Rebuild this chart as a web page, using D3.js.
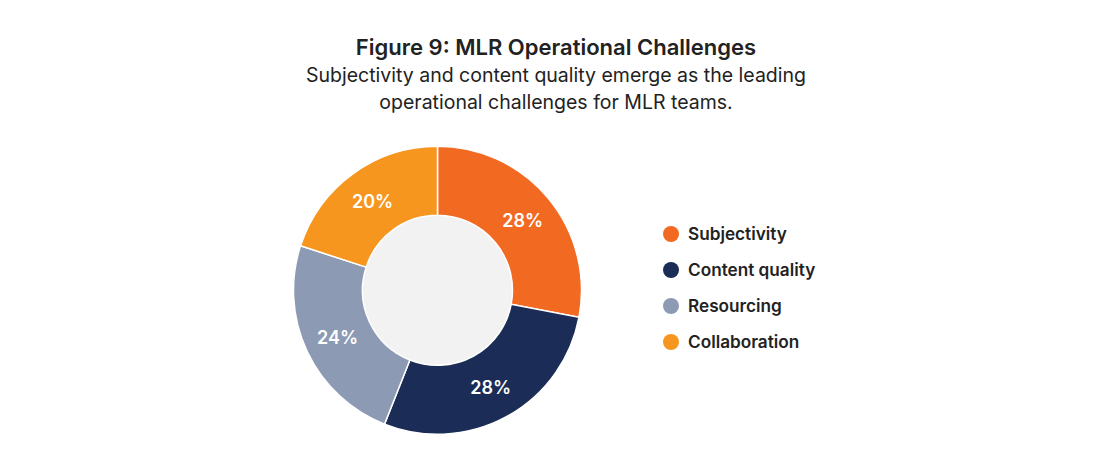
<!DOCTYPE html>
<html>
<head>
<meta charset="utf-8">
<script src="https://cdn.jsdelivr.net/npm/d3@7"></script>
<style>
  html, body { margin: 0; padding: 0; background: #ffffff; }
  svg { display: block; font-family: "Inter", "Open Sans", sans-serif; }
</style>
</head>
<body>
<svg id="chart" width="1116" height="459"></svg>
<script>
const title = "Figure 9: MLR Operational Challenges";
const subtitleLines = [
  "Subjectivity and content quality emerge as the leading",
  "operational challenges for MLR teams."
];
const categories = ["Subjectivity", "Content quality", "Resourcing", "Collaboration"];
const values = [28, 28, 24, 20];
const colors = ["#F26922", "#1B2D57", "#8C9AB3", "#F7961F"];

const svg = d3.select("#chart");

svg.append("text")
  .attr("x", 556).attr("y", 55)
  .attr("text-anchor", "middle")
  .attr("font-size", 22).attr("font-weight", 600)
  .attr("fill", "#222222")
  .text(title);

svg.selectAll("text.sub").data(subtitleLines).join("text")
  .attr("class", "sub")
  .attr("x", 556)
  .attr("y", (d, i) => 82 + i * 26.5)
  .attr("text-anchor", "middle")
  .attr("font-size", 19.5).attr("font-weight", 400)
  .attr("fill", "#222222")
  .text(d => d);

const cx = 437.5, cy = 290.3, rOuter = 144, rInner = 75;
const data = categories.map((c, i) => ({ name: c, value: values[i], color: colors[i] }));

const pie = d3.pie().value(d => d.value).sort(null);
const arc = d3.arc().innerRadius(rInner).outerRadius(rOuter);
const labelArc = d3.arc().innerRadius(rInner + 2).outerRadius(rOuter);

const g = svg.append("g").attr("transform", `translate(${cx},${cy})`);

g.append("circle").attr("r", rInner).attr("fill", "#F2F2F2");

const arcs = pie(data);
g.selectAll("path.slice").data(arcs).join("path")
  .attr("class", "slice")
  .attr("d", arc)
  .attr("fill", d => d.data.color)
  .attr("stroke", "#ffffff")
  .attr("stroke-width", 1.5);

g.selectAll("text.pct").data(arcs).join("text")
  .attr("class", "pct")
  .attr("transform", d => `translate(${labelArc.centroid(d)})`)
  .attr("text-anchor", "middle")
  .attr("dy", "0.38em")
  .attr("font-size", 18).attr("font-weight", 600)
  .attr("fill", "#ffffff")
  .text(d => d.data.value + "%");

const legendY = d3.scalePoint().domain(categories).range([234, 342]);
const legend = svg.append("g");
const items = legend.selectAll("g.item").data(data).join("g")
  .attr("class", "item")
  .attr("transform", d => `translate(671,${legendY(d.name)})`);
items.append("circle").attr("r", 8).attr("fill", d => d.color);
items.append("text")
  .attr("x", 17).attr("dy", "0.36em")
  .attr("font-size", 17.2).attr("font-weight", 600)
  .attr("fill", "#222222")
  .text(d => d.name);
</script>
</body>
</html>
